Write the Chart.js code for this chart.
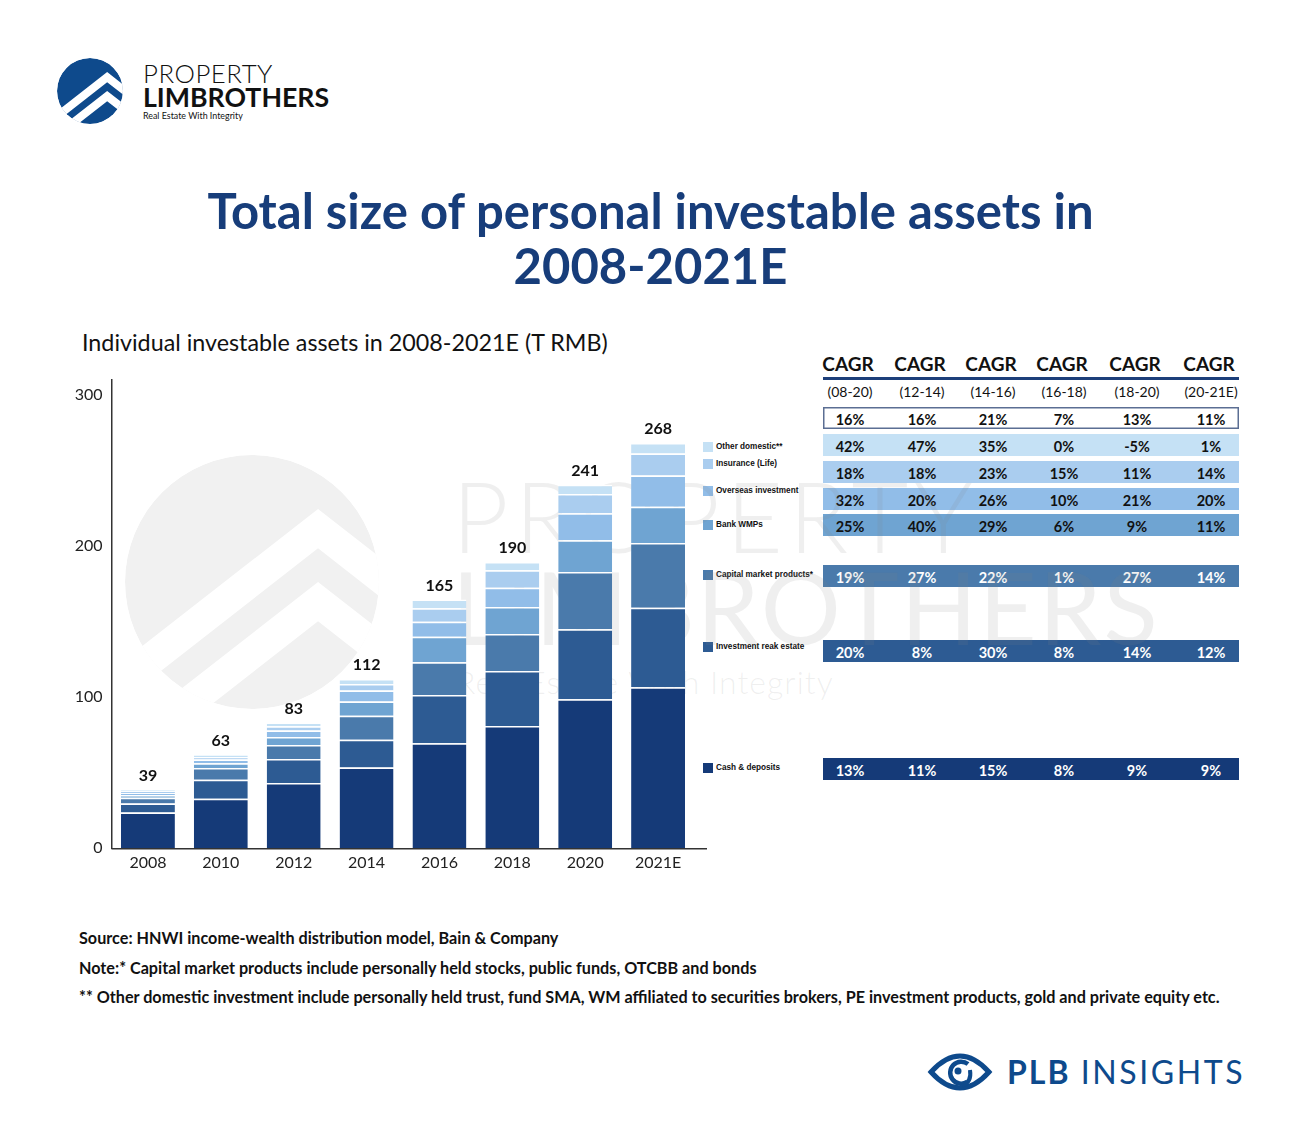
<!DOCTYPE html>
<html>
<head>
<meta charset="utf-8">
<script src="https://cdn.jsdelivr.net/npm/chart.js@4.4.1/dist/chart.umd.min.js"></script>
<style>
html, body { margin: 0; padding: 0; background: #fff; }
body { width: 1301px; height: 1142px; position: relative; overflow: hidden; font-family: Lato, "Noto Sans", sans-serif; color: #111; }
.abs { position: absolute; white-space: nowrap; line-height: 1; }
#bg { position: absolute; left: 0; top: 0; z-index: 0; }
#chart { position: absolute; left: 60px; top: 361px; z-index: 1; }
#wm { z-index: 3; pointer-events: none; color: rgba(128,128,128,0.13); }
.title { color: #173d7a; font-weight: 700; font-size: 49px; }
.legend { font-family: "Liberation Sans", Arial, sans-serif; font-weight: 700; font-size: 8.2px; color: #111; }
.legend i { position: absolute; left: 0; top: -5px; width: 10px; height: 10px; }
.legend span { position: absolute; left: 13px; top: -4px; }
.cell { position: absolute; transform: translateX(-50%); font-size: 14.5px; font-weight: 700; }
.row { position: absolute; left: 823px; width: 416px; }
.note { font-size: 16.2px; font-weight: 700; color: #111; }
</style>
</head>
<body>
<svg id="bg" width="1301" height="1142"></svg>
<canvas id="chart" width="647" height="517"></canvas>

<div class="abs title" style="left:0;width:1301px;text-align:center;top:186px">Total size of personal investable assets in</div>
<div class="abs title" style="left:0;width:1301px;text-align:center;top:241px">2008-2021E</div>
<div class="abs" style="left:82px;top:331px;font-size:23.3px;font-weight:400">Individual investable assets in 2008-2021E (T RMB)</div>

<div class="abs" style="left:143px;top:61px;font-size:25.8px;font-weight:300;letter-spacing:0.5px;color:#111">PROPERTY</div>
<div class="abs" style="left:143px;top:84px;font-size:26.7px;font-weight:700;color:#111">LIMBROTHERS</div>
<div class="abs" style="left:143px;top:112px;font-size:8.9px;font-weight:400;color:#111">Real Estate With Integrity</div>

<div id="legend"></div>
<div id="table"></div>

<div class="abs note" style="left:79px;top:930px">Source: HNWI income-wealth distribution model, Bain &amp; Company</div>
<div class="abs note" style="left:79px;top:960px">Note:* Capital market products include personally held stocks, public funds, OTCBB and bonds</div>
<div class="abs note" style="left:79px;top:989px">** Other domestic investment include personally held trust, fund SMA, WM affiliated to securities brokers, PE investment products, gold and private equity etc.</div>

<div class="abs" style="left:1007px;top:1056px;font-size:32px;color:#0e4a8c;letter-spacing:2px"><b>PLB</b> <span style="letter-spacing:2.6px">INSIGHTS</span></div>

<div id="wm">
  <div class="abs" style="left:452px;top:466px;font-size:98px;font-weight:300;letter-spacing:6px">PROPERTY</div>
  <div class="abs" style="left:452px;top:556px;font-size:100px;font-weight:400;letter-spacing:2px">LIMBROTHERS</div>
  <div class="abs" style="left:456px;top:666px;font-size:32px;font-weight:300;letter-spacing:1px">Real Estate With Integrity</div>
</div>

<script>
// values (T RMB)
const years = ["2008", "2010", "2012", "2014", "2016", "2018", "2020", "2021E"];
const totals = [39, 63, 83, 112, 165, 190, 241, 268];
const cash = [23.5, 32.6, 43.0, 53.3, 69.4, 80.8, 98.5, 106.4];
const realEstate = [6.0, 12.6, 15.9, 18.3, 31.9, 36.4, 46.3, 52.6];
const capitalMarket = [3.7, 7.7, 9.3, 15.9, 21.6, 24.5, 37.9, 42.8];
const bankWmp = [1.8, 3.2, 5.3, 9.5, 16.9, 17.8, 21.0, 24.0];
const overseas = [1.4, 2.4, 4.2, 7.3, 9.9, 12.8, 17.8, 20.8];
const insurance = [1.2, 1.8, 2.8, 4.2, 8.9, 11.5, 12.8, 14.5];
const otherDomestic = [0.9, 1.4, 2.6, 3.3, 5.9, 5.5, 6.1, 7.0];

const seriesNames = ["Cash & deposits", "Investment reak estate", "Capital market products*", "Bank WMPs", "Overseas investment", "Insurance (Life)", "Other domestic**"];
const yTicks = [0, 100, 200, 300];

// CAGR table (%)
const cagrPeriods = ["(08-20)", "(12-14)", "(14-16)", "(16-18)", "(18-20)", "(20-21E)"];
const cagrTotal = [16, 16, 21, 7, 13, 11];
const cagrOther = [42, 47, 35, 0, -5, 1];
const cagrInsurance = [18, 18, 23, 15, 11, 14];
const cagrOverseas = [32, 20, 26, 10, 21, 20];
const cagrWmp = [25, 40, 29, 6, 9, 11];
const cagrCapital = [19, 27, 22, 1, 27, 14];
const cagrRealEstate = [20, 8, 30, 8, 14, 12];
const cagrCash = [13, 11, 15, 8, 9, 9];

const colors = ["#153a78", "#2d5b93", "#4a7aab", "#6fa4d2", "#91bde8", "#aacdef", "#c5e1f5"];
const series = [cash, realEstate, capitalMarket, bankWmp, overseas, insurance, otherDomestic];

// background logos
function logo(cx, cy, r, fill, id) {
  const t = 0.31 * r, s = 0.78, x0 = cx + 0.52 * r;
  function band(y0) {
    const d = 3 * r;
    return `<polygon fill="#fff" points="${x0-d},${y0+d*s} ${x0},${y0} ${x0+d},${y0+d*s} ${x0+d},${y0+d*s+t} ${x0},${y0+t} ${x0-d},${y0+d*s+t}"/>`;
  }
  return `<clipPath id="${id}"><circle cx="${cx}" cy="${cy}" r="${r}"/></clipPath>
    <g clip-path="url(#${id})"><circle cx="${cx}" cy="${cy}" r="${r}" fill="${fill}"/>
    ${band(cy - 0.575 * r)}${band(cy)}</g>`;
}
document.getElementById('bg').innerHTML =
  logo(252, 582, 127, "#f1f1f1", "cw") +
  logo(90, 91, 33, "#0e4a8c", "cl") +
  `<path d="M931,1072 Q960,1040 989,1072 Q960,1104 931,1072 Z" fill="none" stroke="#0e4a8c" stroke-width="5"/>
   <path d="M968,1064 A11,11 0 1 0 967,1082" fill="none" stroke="#0e4a8c" stroke-width="4.5"/>
   <circle cx="958" cy="1071" r="3.5" fill="#0e4a8c"/>
   <path d="M970,1070 Q972,1082 962,1086" fill="none" stroke="#0e4a8c" stroke-width="4"/>`;

// legend (aligned with table rows)
const legendY = [768, 647, 575, 525, 491, 464, 447];
let lg = '';
seriesNames.forEach((n, i) => {
  lg += `<div class="abs legend" style="left:703px;top:${legendY[i]}px"><i style="background:${colors[i]}"></i><span>${n}</span></div>`;
});
document.getElementById('legend').innerHTML = lg;

// CAGR table
const colX = [850, 922, 993, 1064, 1137, 1211];
const rows = [
  { v: cagrTotal, top: 407, h: 22, bg: "#fff", fg: "#111", border: true },
  { v: cagrOther, top: 434, h: 22, bg: colors[6], fg: "#111" },
  { v: cagrInsurance, top: 461, h: 22, bg: colors[5], fg: "#111" },
  { v: cagrOverseas, top: 488, h: 22, bg: colors[4], fg: "#111" },
  { v: cagrWmp, top: 514, h: 22, bg: colors[3], fg: "#111" },
  { v: cagrCapital, top: 565, h: 22, bg: colors[2], fg: "#fff" },
  { v: cagrRealEstate, top: 640, h: 22, bg: colors[1], fg: "#fff" },
  { v: cagrCash, top: 758, h: 22, bg: colors[0], fg: "#fff" }
];
let tb = '';
cagrPeriods.forEach((p, j) => {
  tb += `<div class="cell" style="left:${colX[j] - 2}px;top:352px;font-size:19px;font-weight:700">CAGR</div>`;
  tb += `<div class="cell" style="left:${colX[j]}px;top:383px;font-size:14px;font-weight:400">${p}</div>`;
});
tb += `<div class="abs" style="left:823px;top:377px;width:416px;height:3px;background:#1d3f7a"></div>`;
rows.forEach(r => {
  tb += `<div class="row" style="top:${r.top}px;height:${r.h}px;background:${r.bg};${r.border ? 'box-shadow:inset 0 0 0 1.5px #5b6e93;' : ''}"></div>`;
  r.v.forEach((v, j) => {
    tb += `<div class="cell" style="left:${colX[j]}px;top:${r.top + 4}px;color:${r.fg}">${v}%</div>`;
  });
});
document.getElementById('table').innerHTML = tb;

// totals above bars + x axis line running past the last bar
const totalsPlugin = {
  id: 'totals',
  afterDatasetsDraw(chart) {
    const ctx = chart.ctx, a = chart.chartArea;
    const meta = chart.getDatasetMeta(chart.data.datasets.length - 1);
    ctx.save();
    ctx.strokeStyle = '#333';
    ctx.lineWidth = 1.5;
    ctx.beginPath();
    ctx.moveTo(a.left, a.bottom + 0.75);
    ctx.lineTo(a.right + 13, a.bottom + 0.75);
    ctx.stroke();
    ctx.font = 'bold 16px Lato, sans-serif';
    ctx.fillStyle = '#111';
    ctx.textAlign = 'center';
    ctx.textBaseline = 'middle';
    meta.data.forEach((bar, i) => ctx.fillText(totals[i], bar.x, bar.y - 14));
    ctx.restore();
  }
};

new Chart(document.getElementById('chart'), {
  type: 'bar',
  data: {
    labels: years,
    datasets: series.map((d, i) => ({
      label: seriesNames[i],
      data: d,
      backgroundColor: colors[i],
      borderColor: '#fff',
      borderWidth: { top: 1.5, bottom: 0, left: 0, right: 0 },
      borderSkipped: false,
      barPercentage: 0.74,
      categoryPercentage: 1
    }))
  },
  options: {
    responsive: false,
    animation: false,
    layout: { padding: { top: 1, right: 12.5 } },
    plugins: { legend: { display: false }, tooltip: { enabled: false } },
    scales: {
      x: {
        stacked: true,
        grid: { display: false, drawTicks: false },
        border: { display: false },
        ticks: { color: '#222', font: { size: 16, family: 'Lato' }, padding: 5 },
        afterFit(s) { s.height = 30; }
      },
      y: {
        stacked: true, min: 0, max: 310,
        grid: { display: false, drawTicks: false },
        border: { color: '#333', width: 1.5 },
        ticks: { color: '#222', font: { size: 16, family: 'Lato' }, padding: 9 },
        afterBuildTicks(s) { s.ticks = yTicks.map(v => ({ value: v })); },
        afterFit(s) { s.width = 51.5; }
      }
    }
  },
  plugins: [totalsPlugin]
});
</script>
</body>
</html>
